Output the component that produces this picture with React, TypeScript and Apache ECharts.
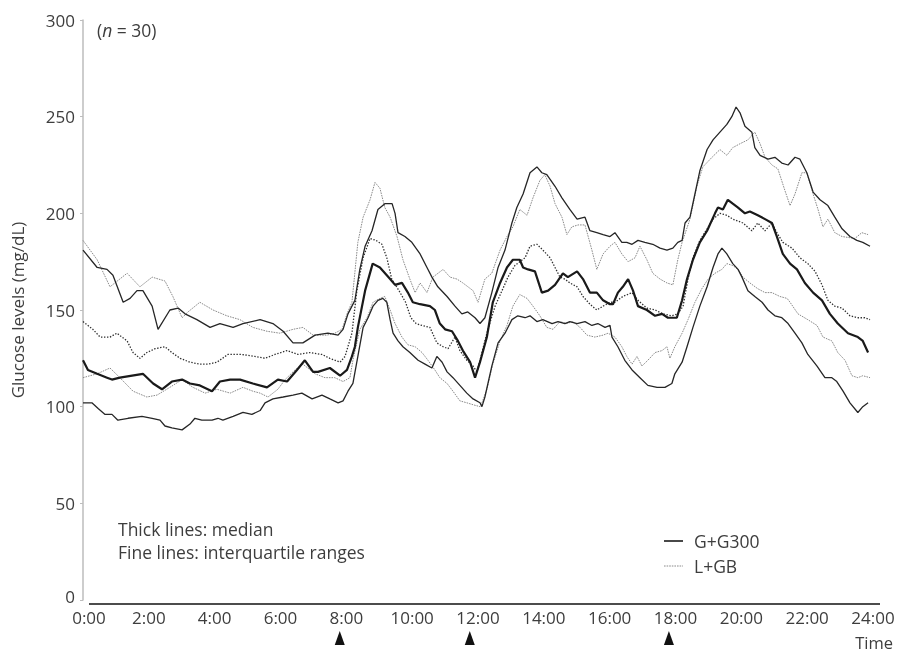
import React, { useEffect, useRef } from "react";
import * as echarts from "echarts";

// ---- data: [hour, mg/dL] ----
const gq3: number[][] = [[0,181],[0.43,172],[0.73,171],[0.91,168],[1.22,154],[1.43,156],[1.64,160],[1.82,160],[2.1,152],[2.28,140],[2.64,150],[2.89,151],[3.1,148],[3.46,145],[3.86,141],[4.16,143],[4.56,141],[4.86,143],[5.38,145],[5.77,143],[6.08,139],[6.38,133],[6.68,133],[7.05,137],[7.44,138],[7.75,137],[7.9,140],[8.05,148],[8.26,155],[8.41,171],[8.57,183],[8.78,191],[8.96,202],[9.17,205],[9.39,205],[9.48,200],[9.57,190],[9.78,188],[9.99,185],[10.24,179],[10.45,172],[10.6,167],[10.78,162],[11.06,157],[11.3,152],[11.51,148],[11.69,149],[11.91,146],[12.06,143],[12.21,146],[12.42,159],[12.61,172],[12.82,181],[13.03,195],[13.18,203],[13.37,210],[13.58,221],[13.79,224],[13.94,221],[14.09,220],[14.34,214],[14.55,208],[14.79,202],[15.01,197],[15.25,198],[15.4,191],[15.61,190],[15.8,189],[16.01,188],[16.16,190],[16.37,185],[16.52,185],[16.68,184],[16.86,186],[17.07,185],[17.31,184],[17.53,182],[17.74,181],[17.92,182],[18.07,185],[18.2,186],[18.29,195],[18.44,198],[18.59,210],[18.74,222],[18.96,233],[19.14,238],[19.35,242],[19.56,246],[19.71,250],[19.84,255],[19.96,252],[20.11,245],[20.32,242],[20.41,234],[20.57,230],[20.81,228],[21.02,229],[21.23,226],[21.42,225],[21.63,229],[21.78,228],[21.99,221],[22.18,211],[22.39,207],[22.63,204],[22.84,198],[23.06,192],[23.3,188],[23.51,186],[23.69,185],[23.91,183]];

const gmed: number[][] = [[0,124],[0.15,119],[0.43,117],[0.73,115],[0.88,114],[1.12,115],[1.82,117],[2.13,112],[2.4,109],[2.7,113],[3.01,114],[3.25,112],[3.55,111],[3.92,108],[4.16,113],[4.47,114],[4.77,114],[5.16,112],[5.59,110],[5.92,114],[6.2,113],[6.5,119],[6.74,124],[6.99,118],[7.14,118],[7.5,120],[7.81,116],[8.02,119],[8.17,126],[8.26,131],[8.35,141],[8.57,160],[8.8,174],[9.02,172],[9.33,166],[9.48,163],[9.69,164],[9.87,159],[10.02,154],[10.24,153],[10.54,152],[10.69,150],[10.84,143],[11.0,140],[11.21,139],[11.39,134],[11.54,129],[11.76,123],[11.91,115],[12.06,123],[12.27,136],[12.45,154],[12.67,164],[12.88,172],[13.06,176],[13.27,176],[13.37,172],[13.52,171],[13.73,170],[13.94,159],[14.13,160],[14.34,163],[14.58,169],[14.73,167],[15.01,170],[15.19,166],[15.4,159],[15.61,159],[15.8,155],[16.01,153],[16.1,153],[16.25,159],[16.4,162],[16.56,166],[16.71,160],[16.86,152],[17.13,150],[17.38,147],[17.59,148],[17.77,146],[18.04,146],[18.2,155],[18.35,166],[18.53,176],[18.74,185],[18.96,191],[19.2,200],[19.29,203],[19.44,202],[19.59,207],[19.74,205],[19.9,203],[20.11,200],[20.26,201],[20.5,199],[20.72,197],[20.93,195],[21.08,188],[21.26,179],[21.48,174],[21.69,171],[21.93,164],[22.18,159],[22.45,155],[22.69,148],[22.93,143],[23.24,138],[23.54,136],[23.69,134],[23.85,128]];

const gq1: number[][] = [[0,102],[0.27,102],[0.46,99],[0.67,96],[0.88,96],[1.06,93],[1.37,94],[1.79,95],[2.1,94],[2.34,93],[2.49,90],[2.7,89],[3.01,88],[3.25,91],[3.4,94],[3.61,93],[3.92,93],[4.1,94],[4.25,93],[4.56,95],[4.86,97],[5.13,96],[5.38,98],[5.53,102],[5.77,104],[6.08,105],[6.38,106],[6.65,107],[6.96,104],[7.26,106],[7.5,104],[7.75,102],[7.9,103],[8.05,108],[8.2,112],[8.35,126],[8.51,141],[8.66,146],[8.81,152],[8.96,155],[9.11,156],[9.23,154],[9.33,145],[9.42,138],[9.57,134],[9.72,131],[9.93,128],[10.18,124],[10.39,122],[10.6,120],[10.75,126],[10.91,123],[11.06,118],[11.24,115],[11.45,111],[11.66,107],[11.85,104],[12.06,102],[12.12,100],[12.21,105],[12.42,121],[12.61,133],[12.82,138],[13.03,145],[13.21,147],[13.43,146],[13.58,147],[13.79,144],[13.97,145],[14.25,143],[14.43,144],[14.64,143],[14.79,144],[15.01,143],[15.25,144],[15.46,142],[15.64,143],[15.86,141],[16.01,142],[16.07,136],[16.25,131],[16.46,124],[16.68,119],[16.92,115],[17.16,111],[17.44,110],[17.68,110],[17.89,112],[17.98,117],[18.2,123],[18.35,131],[18.53,141],[18.74,152],[18.96,162],[19.14,172],[19.29,179],[19.41,182],[19.56,179],[19.74,174],[19.9,171],[20.02,167],[20.2,160],[20.41,157],[20.63,154],[20.81,150],[21.02,147],[21.23,146],[21.42,143],[21.63,138],[21.84,133],[22.02,127],[22.3,121],[22.54,115],[22.75,115],[22.9,113],[23.09,108],[23.3,102],[23.54,97],[23.69,100],[23.85,102]];

const lmed: number[][] = [[0,144],[0.3,140],[0.52,136],[0.82,136],[1.03,138],[1.34,134],[1.52,128],[1.73,125],[1.94,128],[2.19,130],[2.49,131],[2.7,128],[2.95,125],[3.25,123],[3.55,122],[3.8,122],[4.07,123],[4.4,127],[4.83,127],[5.22,126],[5.53,125],[5.83,127],[6.2,129],[6.53,127],[6.9,128],[7.26,127],[7.5,125],[7.81,123],[7.96,126],[8.17,138],[8.32,160],[8.51,177],[8.72,187],[8.9,186],[9.08,184],[9.23,177],[9.38,166],[9.6,160],[9.8,154],[9.96,146],[10.12,143],[10.3,142],[10.54,141],[10.75,133],[10.94,131],[11.09,130],[11.3,136],[11.45,129],[11.66,124],[11.85,121],[11.97,118],[12.12,128],[12.3,140],[12.52,152],[12.73,160],[12.91,167],[13.12,173],[13.27,175],[13.43,177],[13.58,183],[13.79,184],[13.97,181],[14.19,177],[14.34,172],[14.49,167],[14.64,166],[14.79,164],[15.01,162],[15.19,157],[15.4,153],[15.61,150],[15.8,152],[16.01,154],[16.16,154],[16.4,157],[16.68,159],[16.86,155],[17.13,151],[17.38,150],[17.62,148],[17.89,147],[18.07,148],[18.23,152],[18.38,166],[18.53,177],[18.74,186],[18.96,192],[19.14,197],[19.35,200],[19.56,199],[19.74,197],[20.05,195],[20.32,191],[20.5,195],[20.72,191],[20.93,195],[21.08,190],[21.26,185],[21.54,182],[21.78,177],[22.02,174],[22.24,170],[22.45,163],[22.63,155],[22.84,152],[23.06,151],[23.3,147],[23.54,146],[23.75,146],[23.91,145]];

const lq1: number[][] = [[0,115],[0.43,117],[0.82,120],[1.12,115],[1.52,108],[1.94,105],[2.25,106],[2.64,110],[3.01,114],[3.34,110],[3.71,107],[4.07,109],[4.47,107],[4.86,110],[5.16,108],[5.38,107],[5.62,105],[5.92,109],[6.14,114],[6.44,119],[6.68,122],[7.05,117],[7.35,115],[7.65,115],[7.9,113],[8.11,115],[8.2,124],[8.41,140],[8.63,146],[8.81,154],[9.02,156],[9.17,157],[9.33,150],[9.48,143],[9.69,136],[9.87,132],[10.09,131],[10.3,128],[10.48,124],[10.69,119],[10.84,115],[11.06,112],[11.24,108],[11.45,103],[11.66,102],[11.85,101],[12.06,100],[12.12,102],[12.27,109],[12.45,122],[12.67,134],[12.88,142],[13.06,152],[13.27,158],[13.49,156],[13.67,152],[13.88,147],[14.09,141],[14.28,140],[14.49,144],[14.7,143],[14.88,144],[15.1,141],[15.31,137],[15.55,136],[15.8,137],[15.95,138],[16.16,136],[16.37,131],[16.52,126],[16.68,122],[16.83,126],[16.98,121],[17.16,124],[17.38,128],[17.59,129],[17.74,131],[17.83,125],[17.98,131],[18.2,138],[18.38,145],[18.59,154],[18.8,161],[18.99,166],[19.2,169],[19.41,171],[19.56,174],[19.74,173],[19.9,171],[20.05,167],[20.26,164],[20.5,161],[20.72,159],[20.93,159],[21.17,157],[21.39,156],[21.48,154],[21.72,148],[22.02,145],[22.3,142],[22.48,136],[22.75,134],[22.93,128],[23.15,124],[23.36,116],[23.54,115],[23.69,116],[23.91,115]];

const lq3: number[][] = [[0,186],[0.43,176],[0.82,162],[1.34,169],[1.73,162],[2.1,167],[2.49,165],[2.73,157],[3.01,146],[3.19,149],[3.55,154],[3.95,150],[4.37,147],[4.77,145],[5.16,141],[5.59,139],[5.98,138],[6.38,140],[6.68,141],[6.99,137],[7.41,137],[7.65,138],[7.87,140],[8.02,148],[8.17,154],[8.35,185],[8.51,198],[8.72,207],[8.87,216],[9.02,213],[9.17,203],[9.33,198],[9.54,188],[9.72,176],[9.93,166],[10.09,159],[10.24,164],[10.45,159],[10.63,167],[10.94,171],[11.15,167],[11.36,166],[11.54,164],[11.85,160],[12.0,154],[12.21,166],[12.42,169],[12.67,181],[12.88,188],[13.06,193],[13.27,202],[13.49,199],[13.67,208],[13.88,217],[14.03,220],[14.19,214],[14.34,205],[14.55,198],[14.7,189],[14.85,193],[15.04,194],[15.25,194],[15.46,181],[15.61,171],[15.8,179],[16.01,183],[16.16,185],[16.37,179],[16.56,175],[16.77,177],[16.92,183],[17.13,176],[17.31,169],[17.53,166],[17.74,164],[17.92,163],[18.07,176],[18.2,185],[18.44,197],[18.65,214],[18.83,224],[19.11,229],[19.35,233],[19.56,230],[19.74,234],[19.96,236],[20.2,238],[20.41,242],[20.57,236],[20.72,229],[20.93,225],[21.11,223],[21.32,212],[21.48,204],[21.63,210],[21.84,221],[21.99,221],[22.18,210],[22.33,202],[22.48,193],[22.63,197],[22.84,190],[23.06,188],[23.45,187],[23.66,190],[23.85,189]];

const xTicks = [0, 2, 4, 6, 8, 10, 12, 14, 16, 18, 20, 22, 24];
const mealTimes = [7.8, 11.75, 17.8];
const legendNames = ["G+G300", "L+GB"];

const FONT = "'Open Sans', 'Noto Sans', sans-serif";
const TXT = "#3d3d3d";
const ANN = 17.5;

export default function App() {
  const ref = useRef<HTMLDivElement>(null);
  useEffect(() => {
    document.body.style.margin = "0";
    if (!ref.current) return;
    const chart = echarts.init(ref.current, undefined, { renderer: "svg" });
    const W = 898;
    const left = 83, right = 25, top = 20, bottom = 52;
    const plotW = W - left - right;
    const tx = (h: number) => left + (h / 24) * plotW;

    const line = (name: string, data: number[][], color: string, width: number, type: any, z: number) => ({
      name,
      type: "line",
      data,
      showSymbol: false,
      symbol: "none",
      smooth: false,
      z,
      lineStyle: { color, width, type },
      itemStyle: { color },
      emphasis: { disabled: true },
    });

    const GRAY_DASH = [1.6, 1.0];

    chart.setOption({
      animation: false,
      textStyle: { fontFamily: FONT },
      grid: { left, right, top, bottom },
      xAxis: {
        type: "value",
        min: 0,
        max: 24,
        interval: 2,
        axisLine: { show: false },
        axisTick: { show: false },
        splitLine: { show: false },
        axisLabel: {
          margin: 8,
          fontSize: 17,
          lineHeight: 18,
          color: TXT,
          fontFamily: FONT,
          formatter: (v: number) => (v === 0 ? "{a|0:00}" : xTicks.includes(v) ? `${v}:00` : ""),
          rich: { a: { fontSize: 17, lineHeight: 18, color: TXT, fontFamily: FONT, padding: [0, 0, 0, 12] } },
        },
      },
      yAxis: {
        type: "value",
        min: 0,
        max: 300,
        interval: 50,
        name: "Glucose levels (mg/dL)",
        nameLocation: "middle",
        nameGap: 57,
        nameTextStyle: { fontSize: 17, color: TXT, fontFamily: FONT },
        axisLine: { show: true, lineStyle: { color: "#bdbdbd", width: 1.5 } },
        axisTick: { show: true, length: 3, lineStyle: { color: "#bdbdbd" } },
        splitLine: { show: false },
        axisLabel: {
          margin: 8,
          fontSize: 17,
          lineHeight: 14,
          color: TXT,
          fontFamily: FONT,
          formatter: (v: number) => (v === 0 ? "{z|0}" : `${v}`),
          rich: { z: { fontSize: 17, lineHeight: 14, color: TXT, fontFamily: FONT, padding: [0, 0, 8, 0] } },
        },
      },
      series: [
        line("L+GB", lq3, "#8a8a8a", 1, GRAY_DASH, 1),
        line("L+GB", lq1, "#8a8a8a", 1, GRAY_DASH, 1),
        line("L+GB", lmed, "#2e2e2e", 1.3, [1.4, 1.6], 2),
        line("G+G300", gq3, "#262626", 1.3, "solid", 3),
        line("G+G300", gq1, "#262626", 1.3, "solid", 3),
        line("G+G300", gmed, "#1a1a1a", 2.2, "solid", 4),
      ],
      graphic: [
        { type: "line", shape: { x1: 89, y1: 604, x2: 880, y2: 604 }, style: { stroke: "#111", lineWidth: 1.3 }, z: 10 },
        {
          type: "text",
          x: 97,
          y: 30,
          style: {
            text: "({i|n} = 30)",
            fontFamily: FONT,
            fontSize: ANN,
            fill: TXT,
            verticalAlign: "middle",
            rich: { i: { fontStyle: "italic", fontFamily: FONT, fontSize: ANN, fill: TXT } },
          },
        },
        {
          type: "text",
          x: 118,
          y: 529,
          style: { text: "Thick lines: median", fontFamily: FONT, fontSize: ANN, fill: TXT, verticalAlign: "middle" },
        },
        {
          type: "text",
          x: 118,
          y: 552,
          style: { text: "Fine lines: interquartile ranges", fontFamily: FONT, fontSize: ANN, fill: TXT, verticalAlign: "middle" },
        },
        {
          type: "text",
          x: 893,
          y: 642,
          style: { text: "Time", fontFamily: FONT, fontSize: 16.5, lineHeight: 16, fill: TXT, align: "right", verticalAlign: "middle" },
        },
        // legend
        { type: "line", shape: { x1: 664, y1: 541, x2: 683, y2: 541 }, style: { stroke: "#1a1a1a", lineWidth: 1.6 } },
        {
          type: "text",
          x: 694,
          y: 541,
          style: { text: legendNames[0], fontFamily: FONT, fontSize: ANN, fill: TXT, verticalAlign: "middle" },
        },
        { type: "line", shape: { x1: 664, y1: 566, x2: 683, y2: 566 }, style: { stroke: "#8a8a8a", lineWidth: 1, lineDash: GRAY_DASH } },
        {
          type: "text",
          x: 694,
          y: 566,
          style: { text: legendNames[1], fontFamily: FONT, fontSize: ANN, fill: TXT, verticalAlign: "middle" },
        },
        ...mealTimes.map((t) => {
          const cx = tx(t);
          return {
            type: "polygon",
            shape: { points: [[cx, 631], [cx - 5, 645], [cx + 5, 645]] },
            style: { fill: "#111" },
          };
        }),
      ],
    });
    return () => chart.dispose();
  }, []);
  return <div ref={ref} style={{ position: "fixed", left: 0, top: 0, width: 898, height: 652 }} />;
}
